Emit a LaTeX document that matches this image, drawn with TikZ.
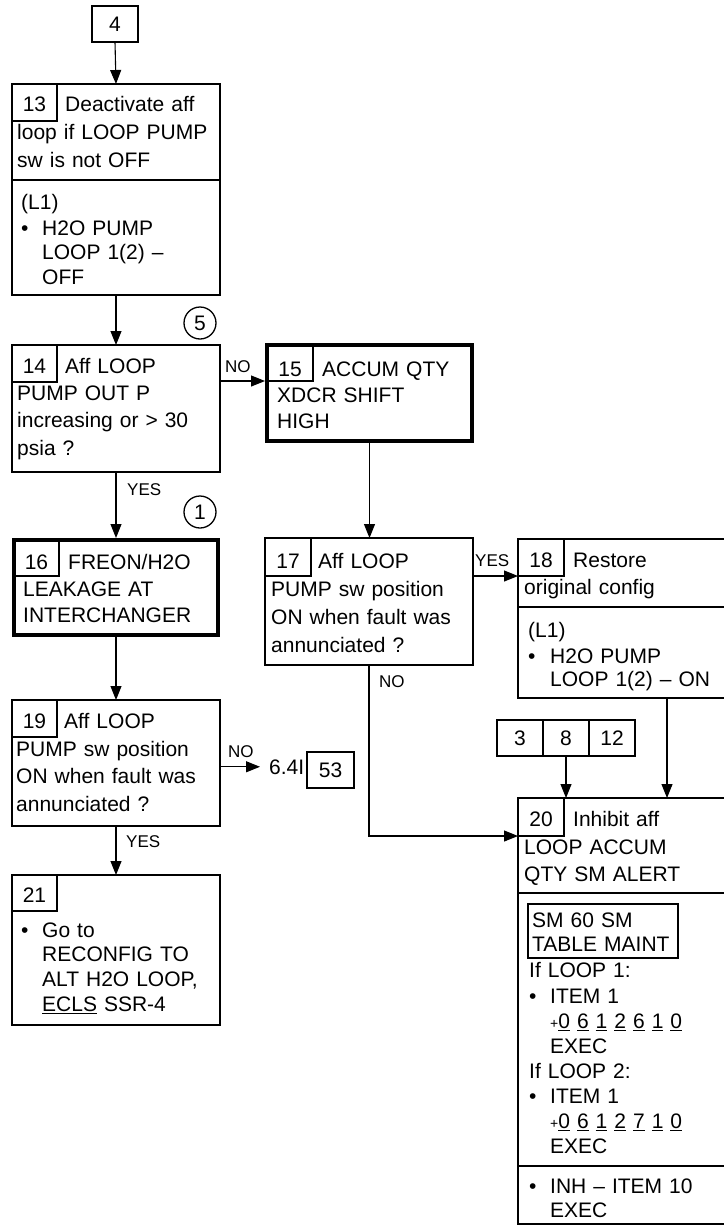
\documentclass[tikz,border=0pt]{standalone}
\usepackage{fontspec}
\setmainfont{Liberation Sans}
\usetikzlibrary{arrows.meta,calc}
\newcommand\udig[1]{\leavevmode\setbox0\hbox{#1}\rlap{\rule[-3.2pt]{\wd0}{1.3pt}}\box0\relax}
\newcommand\mkbox[6][bx]{\node[#1, minimum width={(#5-#3)*1pt}, minimum height={(#6-#4)*1pt}] (#2) at (#3,#4) {};}
\newcommand\smallplus{{\fontsize{14}{14}\selectfont+}}
\tikzset{
  bx/.style={draw, line width=1.5pt, rectangle, inner sep=0pt, outer sep=0pt, anchor=north west},
  thk/.style={bx, line width=4pt},
  ln/.style={line width=1.5pt},
  arr/.style={line width=1.1pt, -{Triangle[length=14pt,width=11pt]}},
  tx/.style={anchor=base west, inner sep=0pt, align=left, text width=260pt, font=\fontsize{21}{27.5}\selectfont},
  num/.style={anchor=base, inner sep=0pt, font=\fontsize{21}{25}\selectfont},
  lab/.style={anchor=base west, inner sep=0pt, font=\fontsize{17}{20}\selectfont},
  circ/.style={draw, circle, line width=1.3pt, minimum size=32pt, inner sep=0pt, font=\fontsize{21}{25}\selectfont},
}
\begin{document}
\begin{tikzpicture}[x=1pt,y=-1pt]
\useasboundingbox (0,0) rectangle (723,1226);

% box 4
\mkbox{b4}{92}{6}{138}{42}
\node[inner sep=0pt, font=\fontsize{21}{25}\selectfont] (t4) at (b4) {4};

% box 13
\mkbox{b13}{12}{84}{220}{295}
\mkbox{b13n}{12}{84}{57}{121}
\draw[ln] (12,180) -- (220,180);
\node[num] (t13n) at (34.5,111) {13};
\node[tx] (t13a) at (65,111) {Deactivate aff};
\node[tx, font=\fontsize{21}{28}\selectfont] (t13b) at (17,139) {loop if LOOP PUMP\\sw is not OFF};
\node[tx] (t13c) at (21,209) {(L1)};
\node[tx] (t13d) at (21,235) {•};
\node[tx, font=\fontsize{21}{24.5}\selectfont] (t13e) at (42,235) {H2O PUMP\\LOOP 1(2) –\\OFF};

% box 14
\mkbox{b14}{12}{345}{220}{472}
\mkbox{b14n}{12}{345}{57}{382}
\node[num] (t14n) at (34.5,373) {14};
\node[tx] (t14a) at (65,373) {Aff LOOP};
\node[tx, font=\fontsize{21}{27.3}\selectfont] (t14b) at (17,400.5) {PUMP OUT P\\increasing or > 30\\psia ?};
\node[circ] (c5) at (200,323) {5};

% box 15
\mkbox[thk]{b15}{267}{345}{472}{441}
\mkbox{b15n}{267}{345}{313}{381}
\node[num] (t15n) at (290,376) {15};
\node[tx] (t15a) at (322,376) {ACCUM QTY};
\node[tx, font=\fontsize{21}{26}\selectfont] (t15b) at (277,402) {XDCR SHIFT\\HIGH};

% box 16
\mkbox[thk]{b16}{14}{540}{218}{635}
\mkbox{b16n}{14}{540}{59}{576}
\node[num] (t16n) at (36.5,569) {16};
\node[tx] (t16a) at (68,569) {FREON/H2O};
\node[tx, font=\fontsize{21}{26.5}\selectfont] (t16b) at (23,596) {LEAKAGE AT\\INTERCHANGER};
\node[circ] (c1) at (200,512) {1};

% box 17
\mkbox{b17}{265}{538}{473}{665}
\mkbox{b17n}{265}{538}{311}{576}
\node[num] (t17n) at (288,568) {17};
\node[tx] (t17a) at (318,568) {Aff LOOP};
\node[tx, font=\fontsize{21}{28}\selectfont] (t17b) at (271,596) {PUMP sw position\\ON when fault was\\annunciated ?};

% box 18
\mkbox{b18}{518}{539}{725}{698}
\mkbox{b18n}{518}{539}{564}{576}
\draw[ln] (518,607) -- (725,607);
\node[num] (t18n) at (541,567) {18};
\node[tx] (t18a) at (573,567) {Restore};
\node[tx] (t18b) at (524,594) {original config};
\node[tx] (t18c) at (528,637) {(L1)};
\node[tx] (t18d) at (528,663) {•};
\node[tx, font=\fontsize{21}{23}\selectfont] (t18e) at (550,663) {H2O PUMP\\LOOP 1(2) – ON};

% box 19
\mkbox{b19}{12}{700}{220}{826}
\mkbox{b19n}{12}{700}{57}{737}
\node[num] (t19n) at (34.5,728) {19};
\node[tx] (t19a) at (64,728) {Aff LOOP};
\node[tx, font=\fontsize{21}{27.5}\selectfont] (t19b) at (16,756) {PUMP sw position\\ON when fault was\\annunciated ?};
\node[anchor=base west, inner xsep=9pt, inner ysep=0pt, font=\fontsize{21}{25}\selectfont] (t64) at (260,774) {6.4I};
\mkbox{b53}{307}{752}{354}{788}
\node[inner sep=0pt, font=\fontsize{21}{25}\selectfont] (t53) at (b53) {53};

% box 21
\mkbox{b21}{12}{875}{220}{1025}
\mkbox{b21n}{12}{875}{57}{911}
\node[num] (t21n) at (34.5,902) {21};
\node[tx] (t21d) at (21,937) {•};
\node[tx, font=\fontsize{21}{24.7}\selectfont] (t21e) at (42,937) {Go to\\RECONFIG TO\\ALT H2O LOOP,\\\udig{ECLS} SSR-4};

% boxes 3 8 12
\mkbox{c3}{497}{720}{543}{756}
\mkbox{c8}{543}{720}{589}{756}
\mkbox{c12}{589}{720}{635}{756}
\node[inner sep=0pt, font=\fontsize{21}{25}\selectfont] (t3) at (c3) {3};
\node[inner sep=0pt, font=\fontsize{21}{25}\selectfont] (t8) at (c8) {8};
\node[inner sep=0pt, font=\fontsize{21}{25}\selectfont] (t12) at (c12) {12};

% box 20
\mkbox{b20}{518}{798}{725}{1224}
\mkbox{b20n}{518}{798}{564}{836}
\draw[ln] (518,893) -- (725,893);
\draw[ln] (518,1166) -- (725,1166);
\mkbox{b20s}{528}{904}{678}{958}
\node[num] (t20n) at (541,826) {20};
\node[tx] (t20a) at (573,826) {Inhibit aff};
\node[tx, font=\fontsize{21}{27}\selectfont] (t20b) at (524,854) {LOOP ACCUM\\QTY SM ALERT};
\node[tx, font=\fontsize{21}{24}\selectfont] (t20c) at (532,927) {SM 60 SM\\TABLE MAINT};
\node[tx] (t20d) at (529,977) {If LOOP 1:};
\node[tx] (t20e) at (529,1003) {•};
\node[tx, font=\fontsize{21}{25}\selectfont] (t20f) at (550,1003) {ITEM 1\\\smallplus\udig{0} \udig{6} \udig{1} \udig{2} \udig{6} \udig{1} \udig{0}\\EXEC};
\node[tx] (t20g) at (529,1078) {If LOOP 2:};
\node[tx] (t20h) at (529,1103) {•};
\node[tx, font=\fontsize{21}{25}\selectfont] (t20i) at (550,1103) {ITEM 1\\\smallplus\udig{0} \udig{6} \udig{1} \udig{2} \udig{7} \udig{1} \udig{0}\\EXEC};
\node[tx] (t20j) at (529,1193) {•};
\node[tx, font=\fontsize{21}{24}\selectfont] (t20k) at (550,1193) {INH – ITEM 10\\EXEC};

% connectors
\coordinate (k18) at (667,700);
\draw[arr] (b4.south) -- (b13.north);
\draw[arr] (b13.south) -- (b14.north);
\draw[arr, shorten >=2pt] (b14.east |- b15n.south) -- (b15n.south west);
\draw[arr, shorten <=2pt] (b15.south) -- (b15.south |- b17.north);
\draw[arr] (b17.east |- b18n.south) -- (b18n.south west);
\draw[arr] (k18 |- b18.south) -- (k18 |- b20.north);
\draw[arr] (c8.south) -- (c8.south |- b20.north);
\draw[arr] (b17.south) -- (b17.south |- b20n.south) -- (b20n.south west);
\draw[arr, shorten >=2pt] (b14.south) -- (b14.south |- b16.north);
\draw[arr, shorten <=2pt] (b16.south) -- (b16.south |- b19.north);
\draw[arr] (b19.east |- t64.west) -- (t64.west);
\draw[arr] (b19.south) -- (b19.south |- b21.north);

% labels
\node[lab] (l1) at (225,372) {NO};
\node[lab] (l2) at (127,495) {YES};
\node[lab] (l3) at (475,566) {YES};
\node[lab] (l4) at (379,687) {NO};
\node[lab] (l5) at (228,757) {NO};
\node[lab] (l6) at (126,847) {YES};
\end{tikzpicture}
\end{document}
